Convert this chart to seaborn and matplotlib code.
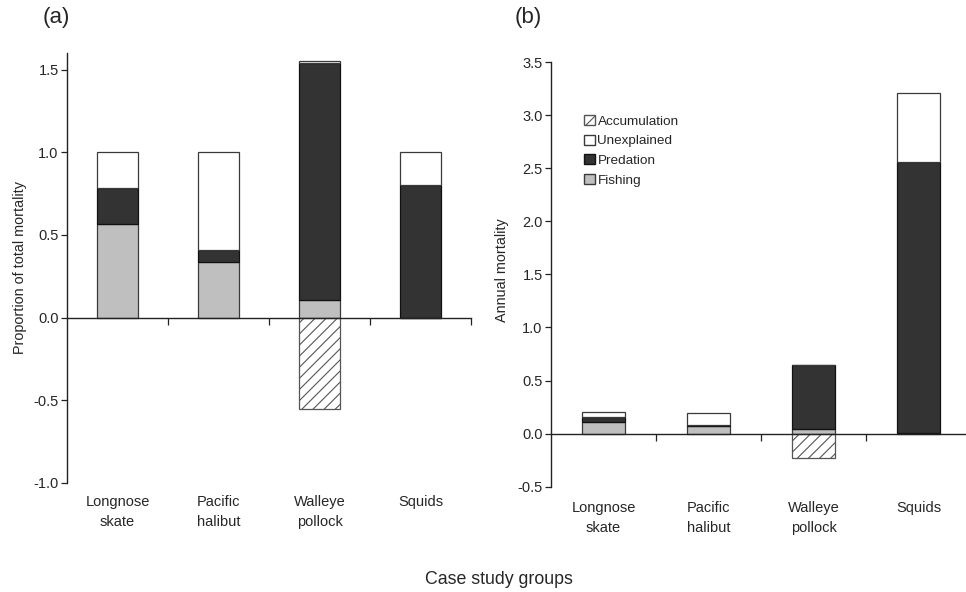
import matplotlib
matplotlib.use("Agg")
import matplotlib.pyplot as plt
import seaborn as sns
import numpy as np
import pandas as pd
from matplotlib.patches import Patch

sns.set_theme(style="white")
plt.rcParams['font.family'] = ['Liberation Sans', 'DejaVu Sans']
plt.rcParams['axes.unicode_minus'] = False
plt.rcParams['hatch.color'] = '#7a7a7a'
plt.rcParams['hatch.linewidth'] = 0.8

groups = ["Longnose\nskate", "Pacific\nhalibut", "Walleye\npollock", "Squids"]

# Panel (a): proportion of total mortality
a_fishing = [0.565, 0.337, 0.107, 0.0]
a_predation = [0.219, 0.073, 1.430, 0.80]
a_unexplained = [0.216, 0.590, 0.016, 0.20]
a_accumulation = [0.0, 0.0, -0.553, 0.0]

# Panel (b): annual mortality
b_fishing = [0.113, 0.07, 0.044, 0.01]
b_predation = [0.047, 0.015, 0.601, 2.55]
b_unexplained = [0.047, 0.105, 0.005, 0.65]
b_accumulation = [0.0, 0.0, -0.226, 0.0]

C_FISH = '#bfbfbf'
C_PRED = '#333333'
C_UNEX = '#ffffff'
EDGE = '#3a3a3a'
HATCH = '///'

fig = plt.figure(figsize=(9.66, 5.92), dpi=100)
W, H = 966, 592

def add_axes(l, r, t, b):
    return fig.add_axes([l / W, 1 - b / H, (r - l) / W, (b - t) / H])

axA = add_axes(67, 471, 53, 483)
axB = add_axes(551, 966, 62, 486.7)

def draw(ax, fishing, predation, unexplained, accumulation, label_y):
    fishing = np.array(fishing)
    predation = np.array(predation)
    unexplained = np.array(unexplained)
    accumulation = np.array(accumulation)
    kw = dict(width=0.41, errorbar=None, linewidth=0.9, ax=ax)
    df = pd.DataFrame({"group": groups})
    sns.barplot(x=df["group"], y=fishing, color=C_FISH, edgecolor=EDGE,
                saturation=1, **kw)
    sns.barplot(x=df["group"], y=predation, bottom=fishing, color=C_PRED,
                edgecolor='#111111', saturation=1, **kw)
    sns.barplot(x=df["group"], y=unexplained, bottom=fishing + predation,
                color=C_UNEX, edgecolor=EDGE, saturation=1, **kw)
    sns.barplot(x=df["group"], y=accumulation, color='white',
                edgecolor='#555555', hatch=HATCH, saturation=1, **kw)
    for p in ax.patches:
        if p.get_height() == 0 and p.get_facecolor()[:3] == (1.0, 1.0, 1.0):
            p.set_visible(False)
    ax.spines['top'].set_visible(False)
    ax.spines['right'].set_visible(False)
    ax.spines['bottom'].set_position(('data', 0))
    for s in ('left', 'bottom'):
        ax.spines[s].set_color('#222222')
        ax.spines[s].set_linewidth(1.0)
    ax.set_xlim(-0.5, 3.5)
    ax.set_xticks([0.5, 1.5, 2.5, 3.5])
    ax.set_xticklabels([])
    ax.tick_params(axis='x', direction='out', length=5, width=0.9,
                   color='#222222', bottom=True)
    ax.tick_params(axis='y', direction='out', length=4, width=0.9,
                   color='#222222', left=True, labelsize=10.5, pad=2)
    ax.set_xlabel("")
    ax.grid(False)
    for i, g in enumerate(groups):
        ax.text(i, label_y, g, transform=ax.get_xaxis_transform(),
                ha='center', va='top', fontsize=10.5, linespacing=1.5)

draw(axA, a_fishing, a_predation, a_unexplained, a_accumulation, -0.028)
axA.set_ylim(-1.0, 1.6)
axA.set_yticks([-1.0, -0.5, 0.0, 0.5, 1.0, 1.5])
axA.set_yticklabels(["-1.0", "-0.5", "0.0", "0.5", "1.0", "1.5"])
axA.set_ylabel("Proportion of total mortality", fontsize=10.4)
axA.yaxis.set_label_coords(-0.099, 0.502)

draw(axB, b_fishing, b_predation, b_unexplained, b_accumulation, -0.034)
axB.set_xlim(-0.5, 3.45)
axB.set_ylim(-0.5, 3.5)
axB.set_yticks(np.arange(-0.5, 3.51, 0.5))
axB.set_yticklabels([f"{v:.1f}" for v in np.arange(-0.5, 3.51, 0.5)])
axB.set_ylabel("Annual mortality", fontsize=10.4)
axB.yaxis.set_label_coords(-0.101, 0.51)

handles = [
    Patch(facecolor='white', edgecolor='#555555', hatch=HATCH, label='Accumulation'),
    Patch(facecolor=C_UNEX, edgecolor=EDGE, label='Unexplained'),
    Patch(facecolor=C_PRED, edgecolor='#111111', label='Predation'),
    Patch(facecolor=C_FISH, edgecolor=EDGE, label='Fishing'),
]
axB.legend(handles=handles, loc='upper left', bbox_to_anchor=((584 - 551) / 415, (486.7 - 115) / 424.7),
           frameon=False, fontsize=9.7, handlelength=0.8, handleheight=0.8,
           handletextpad=0.2, labelspacing=0.5, borderpad=0, borderaxespad=0)

fig.text(43 / W, 1 - 17 / H, "(a)", fontsize=16, ha='left', va='center')
fig.text(515 / W, 1 - 17 / H, "(b)", fontsize=16, ha='left', va='center')
fig.text(499 / W, 1 - 580 / H, "Case study groups", fontsize=12.8, ha='center', va='center')

fig.savefig("out.png", dpi=100)
